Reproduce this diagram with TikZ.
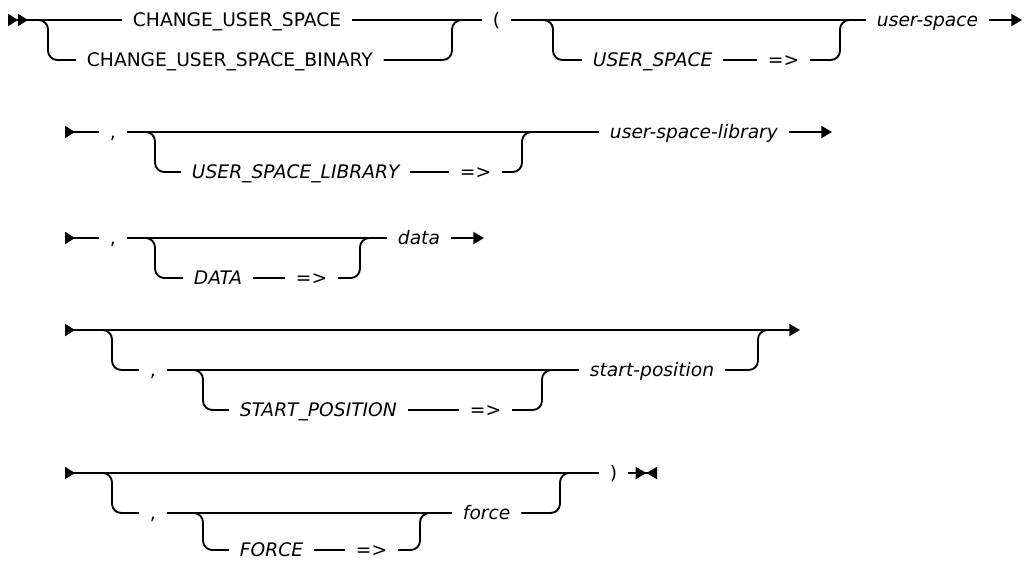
\documentclass[tikz,border=0pt]{standalone}
\usepackage{fontspec}
\setmainfont{DejaVu Sans}
\usetikzlibrary{arrows.meta}

\tikzset{
  rail/.style={line width=1.4pt, rounded corners=7pt},
  kw/.style={anchor=west, inner xsep=8pt, inner ysep=0pt, text height=10pt, text depth=0pt, font=\fontsize{14}{16}\selectfont},
  var/.style={kw, font=\fontsize{14}{16}\selectfont\itshape},
  railstart/.style={arrows={{Triangle[reversed,length=7.5pt,width=9pt,sep=0pt]Triangle[reversed,length=7.5pt,width=9pt,sep=0pt]}-}},
  railcont/.style={arrows={{Triangle[reversed,length=7.5pt,width=9pt]}-}},
  railnext/.style={arrows={-{Triangle[length=8pt,width=9pt]}}},
  railboth/.style={arrows={{Triangle[reversed,length=7.5pt,width=9pt]}-{Triangle[length=8pt,width=9pt]}}},
  railstop/.style={arrows={-{Triangle[length=8pt,width=9pt,sep=0pt]Triangle[reversed,length=8pt,width=9pt,sep=0pt]}}},
}

\begin{document}
\begin{tikzpicture}[x=0.75pt,y=0.75pt,yscale=-1,xscale=1]
\useasboundingbox (0,0) rectangle (1031,562);

% row 1
\coordinate (r1s) at (8,20);
\coordinate (f1a) at (38,20);
\coordinate (j1a) at (462,20);
\coordinate (f1b) at (543,20);
\coordinate (j1b) at (850,20);
\coordinate (r1e) at (1022,20);
\node[kw] (cus) at (122,20) {CHANGE\_USER\_SPACE\hspace{13pt}};
\node[kw] (cusb) at (76,60) {CHANGE\_USER\_SPACE\_BINARY\hspace{23pt}};
\node[kw] (lpar) at (482,20) {(};
\node[var] (uskw) at (582,60) {USER\_SPACE};
\node[kw] (usarr) at (757,60) {=>};
\node[var] (usv) at (866,20) {user-space};

\draw[rail, railstart] (r1s) -- (cus.west);
\draw[rail] (cus.east) -- (lpar.west);
\draw[rail] (lpar.east) -- (usv.west);
\draw[rail, railnext] (usv.east) -- (r1e);
\draw[rail] (f1a) -- ++(10,0) |- (cusb.west);
\draw[rail] (j1a) -- ++(-10,0) |- (cusb.east);
\draw[rail] (f1b) -- ++(10,0) |- (uskw.west);
\draw[rail] (uskw.east) -- (usarr.west);
\draw[rail] (j1b) -- ++(-10,0) |- (usarr.east);

% row 2
\coordinate (r2s) at (65,132);
\coordinate (f2) at (145,132);
\coordinate (j2) at (532,132);
\coordinate (r2e) at (832,132);
\node[kw] (cm2) at (99,132) {,};
\node[var] (uslkw) at (181,172) {USER\_SPACE\_LIBRARY};
\node[kw] (uslarr) at (449,172) {=>};
\node[var] (uslv) at (599,132) {user-space-library};

\draw[rail, railcont] (r2s) -- (cm2.west);
\draw[rail] (cm2.east) -- (uslv.west);
\draw[rail, railnext] (uslv.east) -- (r2e);
\draw[rail] (f2) -- ++(10,0) |- (uslkw.west);
\draw[rail] (uslkw.east) -- (uslarr.west);
\draw[rail] (j2) -- ++(-10,0) |- (uslarr.east);

% row 3
\coordinate (r3s) at (65,238);
\coordinate (f3) at (145,238);
\coordinate (j3) at (370,238);
\coordinate (r3e) at (484,238);
\node[kw] (cm3) at (99,238) {,};
\node[var] (dkw) at (183,278) {DATA};
\node[kw] (darr) at (285,278) {=>};
\node[var] (dv) at (387,238) {data};

\draw[rail, railcont] (r3s) -- (cm3.west);
\draw[rail] (cm3.east) -- (dv.west);
\draw[rail, railnext] (dv.east) -- (r3e);
\draw[rail] (f3) -- ++(10,0) |- (dkw.west);
\draw[rail] (dkw.east) -- (darr.west);
\draw[rail] (j3) -- ++(-10,0) |- (darr.east);

% row 4
\coordinate (r4s) at (65,330);
\coordinate (f4a) at (102,330);
\coordinate (j4a) at (768,330);
\coordinate (f4b) at (193,370);
\coordinate (j4b) at (552,370);
\coordinate (r4e) at (800,330);
\node[kw] (cm4) at (139,370) {,};
\node[var] (spkw) at (229,410) {START\_POSITION};
\node[kw] (sparr) at (459,410) {=>};
\node[var] (spv) at (579,370) {start-position\hspace{4pt}};

\draw[rail, railboth] (r4s) -- (r4e);
\draw[rail] (f4a) -- ++(10,0) |- (cm4.west);
\draw[rail] (cm4.east) -- (spv.west);
\draw[rail] (j4a) -- ++(-10,0) |- (spv.east);
\draw[rail] (f4b) -- ++(10,0) |- (spkw.west);
\draw[rail] (spkw.east) -- (sparr.west);
\draw[rail] (j4b) -- ++(-10,0) |- (sparr.east);

% row 5
\coordinate (r5s) at (65,473);
\coordinate (f5a) at (102,473);
\coordinate (j5a) at (570,473);
\coordinate (f5b) at (193,513);
\coordinate (j5b) at (430,513);
\coordinate (r5e) at (657,473);
\node[kw] (cm5) at (139,513) {,};
\node[var] (fkw) at (229,550) {FORCE};
\node[kw] (farr) at (345,550) {=>};
\node[var] (fv) at (452,513) {force};
\node[kw] (rpar) at (599,473) {)};

\draw[rail, railcont] (r5s) -- (rpar.west);
\draw[rail, railstop] (rpar.east) -- (r5e);
\draw[rail] (f5a) -- ++(10,0) |- (cm5.west);
\draw[rail] (cm5.east) -- (fv.west);
\draw[rail] (j5a) -- ++(-10,0) |- (fv.east);
\draw[rail] (f5b) -- ++(10,0) |- (fkw.west);
\draw[rail] (fkw.east) -- (farr.west);
\draw[rail] (j5b) -- ++(-10,0) |- (farr.east);

\end{tikzpicture}
\end{document}
